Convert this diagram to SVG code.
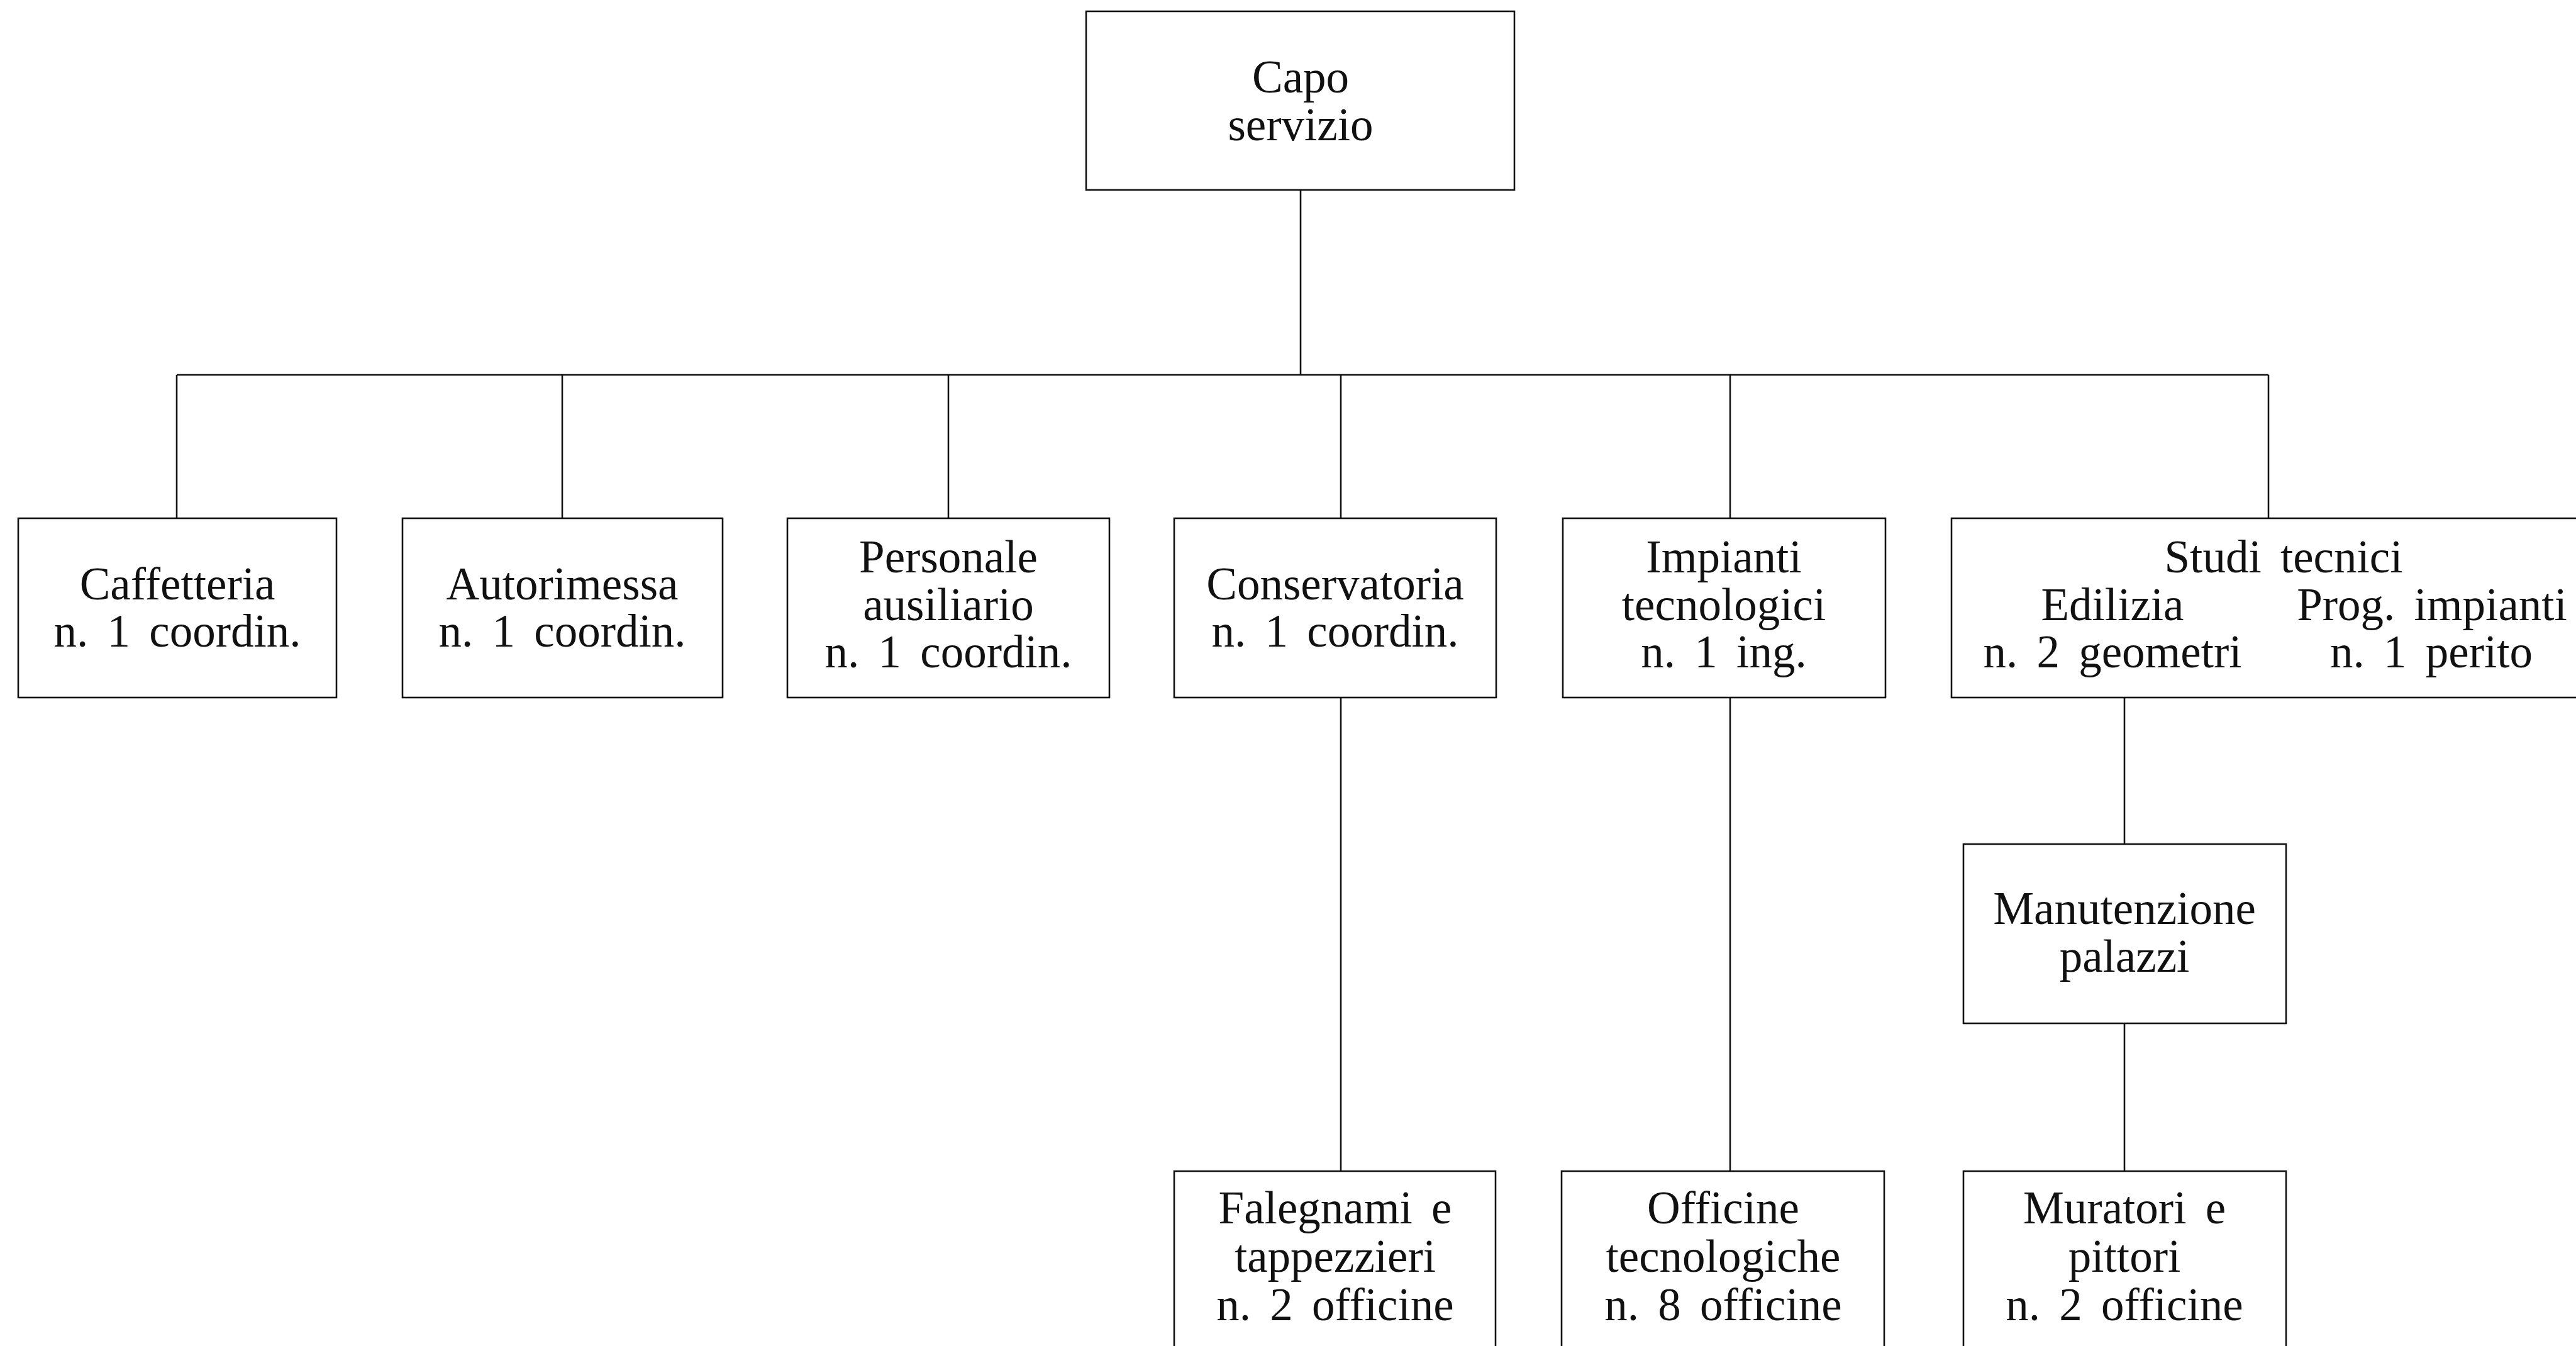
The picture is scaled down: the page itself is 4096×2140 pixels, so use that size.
<svg xmlns="http://www.w3.org/2000/svg" width="4096" height="2140" viewBox="0 0 4096 2140">
  <style>
    .box { fill: #ffffff; stroke: #111111; stroke-width: 2.6; }
    .link { fill: none; stroke: #111111; stroke-width: 2.6; }
    .lbl { font-family: "Liberation Serif", "DejaVu Serif", serif; font-size: 73px; fill: #111111; text-anchor: middle; word-spacing: 12px; }
  </style>
  <rect x="0" y="0" width="4096" height="2140" fill="#ffffff"/>

  <!-- connectors -->
  <g id="connectors">
    <line class="link" x1="2068" y1="302" x2="2068" y2="596"/>
    <line class="link" x1="281" y1="596" x2="3607" y2="596"/>
    <line class="link" x1="281" y1="596" x2="281" y2="824"/>
    <line class="link" x1="894" y1="596" x2="894" y2="824"/>
    <line class="link" x1="1508" y1="596" x2="1508" y2="824"/>
    <line class="link" x1="2132" y1="596" x2="2132" y2="824"/>
    <line class="link" x1="2751" y1="596" x2="2751" y2="824"/>
    <line class="link" x1="3607" y1="596" x2="3607" y2="824"/>
    <line class="link" x1="2132" y1="1109" x2="2132" y2="1862"/>
    <line class="link" x1="2751" y1="1109" x2="2751" y2="1862"/>
    <line class="link" x1="3378" y1="1109" x2="3378" y2="1342"/>
    <line class="link" x1="3378" y1="1627" x2="3378" y2="1862"/>
  </g>

  <g id="capo-servizio">
    <rect class="box" x="1727" y="18" width="681" height="284"/>
    <text class="lbl" x="2068" y="147">Capo</text>
    <text class="lbl" x="2068" y="223">servizio</text>
  </g>

  <g id="caffetteria">
    <rect class="box" x="29" y="824" width="506" height="285"/>
    <text class="lbl" x="282" y="953">Caffetteria</text>
    <text class="lbl" x="282" y="1028">n. 1 coordin.</text>
  </g>

  <g id="autorimessa">
    <rect class="box" x="640" y="824" width="509" height="285"/>
    <text class="lbl" x="894" y="953">Autorimessa</text>
    <text class="lbl" x="894" y="1028">n. 1 coordin.</text>
  </g>

  <g id="personale-ausiliario">
    <rect class="box" x="1252" y="824" width="512" height="285"/>
    <text class="lbl" x="1508" y="910">Personale</text>
    <text class="lbl" x="1508" y="986">ausiliario</text>
    <text class="lbl" x="1508" y="1061">n. 1 coordin.</text>
  </g>

  <g id="conservatoria">
    <rect class="box" x="1867" y="824" width="512" height="285"/>
    <text class="lbl" x="2123" y="953">Conservatoria</text>
    <text class="lbl" x="2123" y="1028">n. 1 coordin.</text>
  </g>

  <g id="impianti-tecnologici">
    <rect class="box" x="2485" y="824" width="513" height="285"/>
    <text class="lbl" x="2741" y="910">Impianti</text>
    <text class="lbl" x="2741" y="986">tecnologici</text>
    <text class="lbl" x="2741" y="1061">n. 1 ing.</text>
  </g>

  <g id="studi-tecnici">
    <rect class="box" x="3103" y="824" width="1020" height="285"/>
    <text class="lbl" x="3631" y="910">Studi tecnici</text>
    <text class="lbl" x="3359" y="986">Edilizia</text>
    <text class="lbl" x="3867" y="986">Prog. impianti</text>
    <text class="lbl" x="3359" y="1061">n. 2 geometri</text>
    <text class="lbl" x="3866" y="1061">n. 1 perito</text>
  </g>

  <g id="manutenzione-palazzi">
    <rect class="box" x="3122" y="1342" width="513" height="285"/>
    <text class="lbl" x="3378" y="1469">Manutenzione</text>
    <text class="lbl" x="3378" y="1545">palazzi</text>
  </g>

  <g id="falegnami">
    <rect class="box" x="1867" y="1862" width="511" height="300"/>
    <text class="lbl" x="2123" y="1945">Falegnami e</text>
    <text class="lbl" x="2123" y="2022">tappezzieri</text>
    <text class="lbl" x="2123" y="2099">n. 2 officine</text>
  </g>

  <g id="officine-tecnologiche">
    <rect class="box" x="2483" y="1862" width="513" height="300"/>
    <text class="lbl" x="2740" y="1945">Officine</text>
    <text class="lbl" x="2740" y="2022">tecnologiche</text>
    <text class="lbl" x="2740" y="2099">n. 8 officine</text>
  </g>

  <g id="muratori-pittori">
    <rect class="box" x="3122" y="1862" width="513" height="300"/>
    <text class="lbl" x="3378" y="1945">Muratori e</text>
    <text class="lbl" x="3378" y="2022">pittori</text>
    <text class="lbl" x="3378" y="2099">n. 2 officine</text>
  </g>
</svg>
